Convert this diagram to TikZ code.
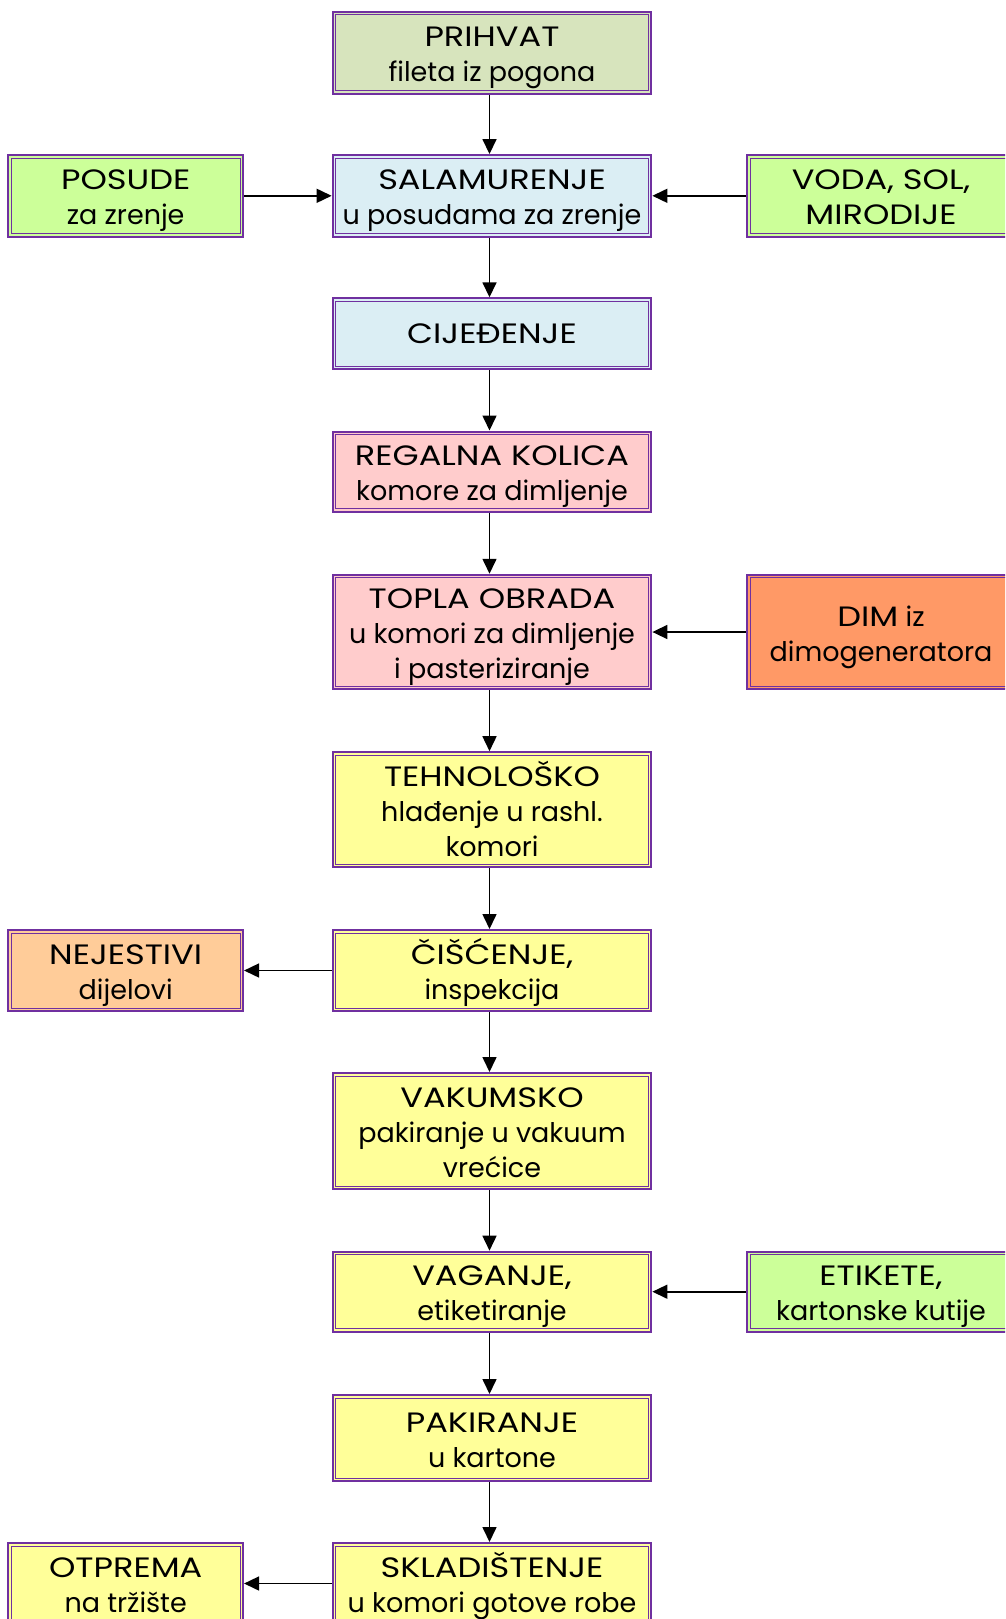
\documentclass[tikz,border=0pt]{standalone}
\usepackage{fontspec}
\setmainfont{Poppins}
\usetikzlibrary{arrows.meta}

\definecolor{frame}{HTML}{7030A0}
\definecolor{olive}{HTML}{D7E4BD}
\definecolor{aqua}{HTML}{DBEEF4}
\definecolor{rose}{HTML}{FFCCCC}
\definecolor{lemon}{HTML}{FFFF99}
\definecolor{lime}{HTML}{CCFF99}
\definecolor{smoke}{HTML}{FF9966}
\definecolor{peach}{HTML}{FFCC99}

% wide capitals for the headings
\newcommand{\cp}[1]{{\addfontfeature{FakeStretch=1.2}\fontsize{28}{35}\selectfont #1}}
% first line of a box: fixed strut height so all boxes set their text alike
\newcommand{\hd}[2][31pt]{\rule{0pt}{#1}\cp{#2}}

\tikzset{
  box/.style={draw=frame, line width=2pt, fill=#1, inner sep=0pt,
    align=center, text=black, font=\fontsize{27}{35}\selectfont,
    execute at end node={\rule[-8pt]{0pt}{0pt}},
    path picture={\draw[frame, line width=1pt]
      ([shift={(3pt,3pt)}]path picture bounding box.south west) rectangle
      ([shift={(-3pt,-3pt)}]path picture bounding box.north east);}},
  midcol/.style={box=#1, minimum width=318.8pt},
  leftcol/.style={box=#1, minimum width=234.7pt},
  rightcol/.style={box=#1, minimum width=267.7pt},
  flow/.style={line width=1.6pt, -{Triangle[length=15pt,width=14pt]}},
}

\begin{document}
\begin{tikzpicture}[x=1pt, y=-1pt]
\useasboundingbox (0,0) rectangle (1005,1619);
\clip (0,0) rectangle (1005,1619);

% main process column
\node[midcol=olive, minimum height=82pt]  (prihvat) at (492,52.8)  {\hd{PRIHVAT}\\fileta iz pogona};
\node[midcol=aqua,  minimum height=81.5pt](salam)   at (492,195.8) {\hd{SALAMURENJE}\\u posudama za zrenje};
\node[midcol=aqua,  minimum height=71pt]  (cij)     at (492,333.8) {\hd[27pt]{CIJEĐENJE}};
\node[midcol=rose,  minimum height=80pt]  (regal)   at (492,471.5) {\hd{REGALNA KOLICA}\\komore za dimljenje};
\node[midcol=rose,  minimum height=114.5pt](topla)  at (492,632)   {\hd{TOPLA OBRADA}\\u komori za dimljenje\\i pasteriziranje};
\node[midcol=lemon, minimum height=115pt] (tehn)    at (492,809.7) {\hd{TEHNOLOŠKO}\\hlađenje u rashl.\\komori};
\node[midcol=lemon, minimum height=81pt]  (cisc)    at (492,970.5) {\hd{ČIŠĆENJE,}\\inspekcija};
\node[midcol=lemon, minimum height=116pt] (vak)     at (492,1131)  {\hd{VAKUMSKO}\\pakiranje u vakuum\\vrećice};
\node[midcol=lemon, minimum height=80pt]  (vag)     at (492,1291.7){\hd{VAGANJE,}\\etiketiranje};
\node[midcol=lemon, minimum height=86pt]  (pak)     at (492,1438)  {\hd{PAKIRANJE}\\u kartone};
\node[midcol=lemon, minimum height=81pt]  (skl)     at (492,1583.5){\hd{SKLADIŠTENJE}\\u komori gotove robe};

% side inputs and outputs
\node[leftcol=lime,  minimum height=81.5pt](posude) at (125.7,195.8) {\hd{POSUDE}\\za zrenje};
\node[leftcol=peach, minimum height=81pt]  (otpad)  at (125.7,970.5) {\hd{NEJESTIVI}\\dijelovi};
\node[leftcol=lemon, minimum height=81pt]  (otprema) at (125.7,1583.5){\hd{OTPREMA}\\na tržište};
\node[rightcol=lime, minimum height=81.5pt](voda)   at (881,195.8)   {\hd{VODA, SOL,}\\\cp{MIRODIJE}};
\node[rightcol=smoke,minimum height=114.5pt](dim)   at (881,632)     {\hd{DIM} iz\\dimogeneratora};
\node[rightcol=lime, minimum height=80pt]  (etik)   at (881,1291.7)  {\hd{ETIKETE,}\\kartonske kutije};

% vertical flow
\foreach \a/\b in {prihvat/salam, salam/cij, cij/regal, regal/topla, topla/tehn,
                   tehn/cisc, cisc/vak, vak/vag, vag/pak, pak/skl}
  \draw[flow] ([xshift=-2.5pt]\a.south) -- ([xshift=-2.5pt]\b.north);

% horizontal flow
\draw[flow] (posude.east) -- (salam.west);
\draw[flow] (voda.west) -- (salam.east);
\draw[flow] (dim.west) -- (topla.east);
\draw[flow] (cisc.west) -- (otpad.east);
\draw[flow] (etik.west) -- (vag.east);
\draw[flow] (skl.west) -- (otprema.east);
\end{tikzpicture}
\end{document}
